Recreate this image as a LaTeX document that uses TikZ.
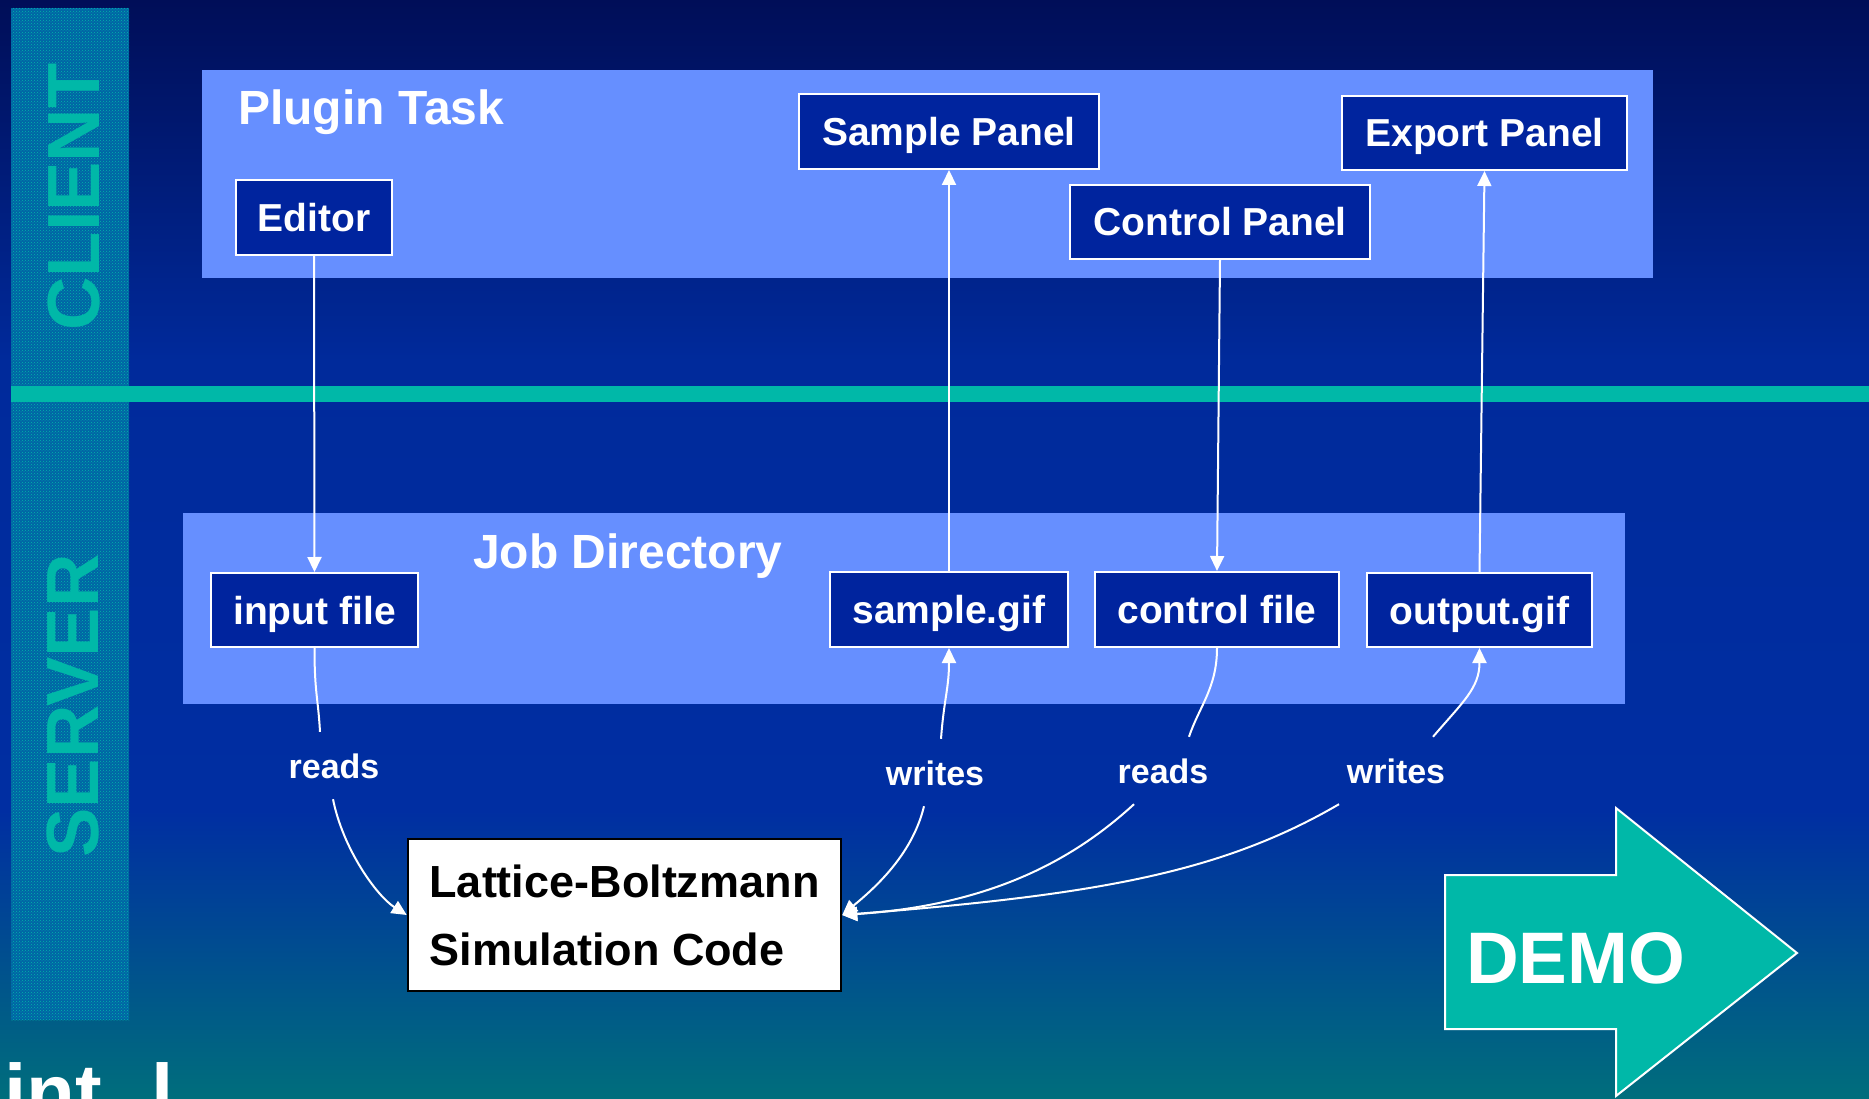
\documentclass[tikz,border=0pt]{standalone}
\usepackage{fontspec}
\setmainfont{Liberation Sans}
\usetikzlibrary{arrows.meta,patterns}

\definecolor{bgtop}{RGB}{0,14,88}
\definecolor{bgmid}{RGB}{0,42,155}
\definecolor{bgmidb}{RGB}{0,46,162}
\definecolor{bgbot}{RGB}{0,110,124}
\definecolor{demoteal}{RGB}{0,184,168}
\definecolor{colbase}{RGB}{0,100,165}
\definecolor{panelblue}{RGB}{102,143,255}
\definecolor{boxblue}{RGB}{0,36,158}

\tikzset{
  panel/.style={fill=panelblue, draw=none, inner sep=0pt},
  filebox/.style={draw=white, line width=2pt, fill=boxblue, text=white,
    font=\fontsize{39}{44}\selectfont\bfseries, inner sep=0pt,
    text height=28pt, text depth=0pt},
  paneltitle/.style={text=white, font=\fontsize{48}{56}\selectfont\bfseries,
    inner sep=0pt, anchor=base west},
  verb/.style={text=white, font=\fontsize{34}{40}\selectfont\bfseries,
    inner xsep=4pt, inner ysep=21pt, text height=25pt, text depth=0pt, anchor=base},
  sidetag/.style={text=demoteal, font=\fontsize{74}{80}\selectfont\bfseries,
    rotate=90, inner sep=0pt},
  link/.style={draw=white, line width=2pt},
  flow/.style={link, -{Triangle[length=15pt,width=14pt]}},
}

\begin{document}
\begin{tikzpicture}[x=1pt,y=-1pt]
\useasboundingbox (0,0) rectangle (1869,1099);
\clip (0,0) rectangle (1869,1099);

% background gradient
\shade[top color=bgtop, bottom color=bgmid] (0,0) rectangle (1869,361);
\shade[top color=bgmid, bottom color=bgmidb] (0,360) rectangle (1869,811);
\shade[top color=bgmidb, bottom color=bgbot] (0,810) rectangle (1869,1099);

% large white word at the lower left corner
\node[anchor=base west, inner sep=0pt, text=white,
      font=\fontsize{80}{90}\selectfont\bfseries] (cornerword) at (4,1120) {int\hspace{50pt}l};

% textured side column with the two zone names
\fill[colbase] (11,8) rectangle (129,1020);
\fill[pattern=crosshatch dots, pattern color=demoteal] (11,8) rectangle (129,1020);
\node[sidetag] (client) at (74,197) {CLIENT};
\node[sidetag] (server) at (73,706) {SERVER};

% client / server divider
\fill[demoteal] (11,386) rectangle (1869,402);

% container panels
\node[panel, minimum width=1451pt, minimum height=208pt] (plugin) at (927.5,174) {};
\node[panel, minimum width=1442pt, minimum height=191pt] (jobdir) at (904,608.5) {};
\node[paneltitle] (plugintitle) at (238,125) {Plugin Task};
\node[paneltitle] (jobtitle) at (473,568) {Job Directory};

% client side components
\node[filebox, minimum width=156pt, minimum height=75pt] (editor) at (314,217.5) {Editor};
\node[filebox, minimum width=300pt, minimum height=75pt] (spanel) at (949,131.5) {Sample Panel};
\node[filebox, minimum width=285pt, minimum height=74pt] (epanel) at (1484.5,133) {Export Panel};
\node[filebox, minimum width=300pt, minimum height=74pt] (cpanel) at (1220,222) {Control Panel};

% files in the job directory
\node[filebox, minimum width=207pt, minimum height=74pt] (infile) at (314.5,610) {input file};
\node[filebox, minimum width=238pt, minimum height=75pt] (sgif) at (949,609.5) {sample.gif};
\node[filebox, minimum width=244pt, minimum height=75pt] (cfile) at (1217,609.5) {control file};
\node[filebox, minimum width=225pt, minimum height=74pt] (ogif) at (1479.5,610) {output.gif};

% simulation code
\node[draw=black, line width=2.5pt, fill=white, text=black,
      font=\fontsize{45}{68}\selectfont\bfseries, align=left, inner sep=0pt,
      minimum width=433pt, minimum height=152pt] (lb) at (624.5,915)
      {Lattice-Boltzmann\\Simulation Code};

% access labels
\node[verb] (rd1) at (334,778) {reads};
\node[verb] (wr1) at (935,785) {writes};
\node[verb] (rd2) at (1163,783) {reads};
\node[verb] (wr2) at (1396,783) {writes};

% client <-> job directory
\draw[flow] (editor.south) -- (infile.north);
\draw[flow] (sgif.north) -- (spanel.south);
\draw[flow] (cpanel.south) -- (cfile.north);
\draw[flow] (ogif.north) -- (epanel.south);

% simulation code <-> files
\draw[link] (infile.south) .. controls +(0,45) and +(-2,-35) .. ([xshift=-14pt]rd1.north);
\draw[flow] ([xshift=-1pt]rd1.south) .. controls +(10,50) and +(-30,-19) .. (lb.west);

\draw[flow] ([xshift=6pt]wr1.north) .. controls +(3,-40) and +(0,40) .. (sgif.south);
\draw[flow] ([xshift=-11pt]wr1.south) .. controls +(-12,50) and +(30,-25) .. (lb.east);

\draw[link] (cfile.south) .. controls +(0,40) and +(10,-30) .. ([xshift=26pt]rd2.north);
\draw[flow] ([xshift=-29pt]rd2.south) .. controls +(-60,55) and +(150,-10) .. (lb.east);

\draw[flow] ([xshift=37pt]wr2.north) .. controls +(30,-35) and +(0,40) .. (ogif.south);
\draw[flow] ([xshift=-57pt]wr2.south) .. controls +(-120,70) and +(250,-20) .. (lb.east);

% demo arrow
\filldraw[fill=demoteal, draw=white, line width=2pt]
  (1445,875) -- (1616,875) -- (1616,808) -- (1797,953) -- (1616,1096)
  -- (1616,1029) -- (1445,1029) -- cycle;
\node[anchor=base west, inner sep=0pt, text=white,
      font=\fontsize{73}{80}\selectfont\bfseries] (demo) at (1466,983) {DEMO};
\end{tikzpicture}
\end{document}
